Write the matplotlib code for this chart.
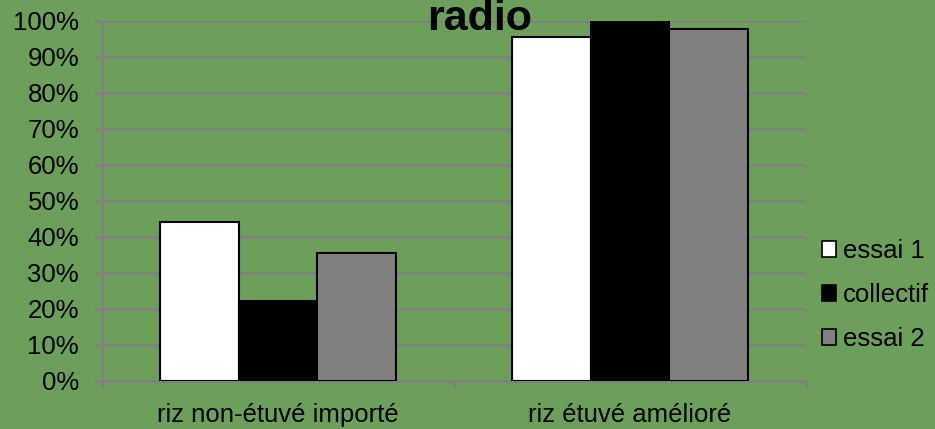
import matplotlib
matplotlib.use("Agg")
import matplotlib.pyplot as plt
from matplotlib.patches import Rectangle
import numpy as np

categories = ["riz non-étuvé importé", "riz étuvé amélioré"]
series_names = ["essai 1", "collectif", "essai 2"]
essai1 = [0.443, 0.955]
collectif = [0.222, 1.00]
essai2 = [0.355, 0.977]
series = [essai1, collectif, essai2]
colors = ["#ffffff", "#000000", "#808080"]
yticks = np.arange(0, 1.01, 0.1)
ytick_labels = [f"{int(round(v*100))}%" for v in yticks]

plt.rcParams['font.family'] = ['Liberation Sans', 'DejaVu Sans']
bg = "#6b9f5a"
W, H = 935, 429
FS = 18.5
fig = plt.figure(figsize=(W/100, H/100), dpi=100, facecolor=bg)
ax = fig.add_axes([102/W, 1-381/H, (806-102)/W, (381-21)/H])
ax.set_facecolor(bg)

x = np.arange(len(categories))
bw = 0.223
for i, (vals, c) in enumerate(zip(series, colors)):
    ax.bar(x + (i-1)*bw, vals, width=bw, color=c, edgecolor="#000000",
           linewidth=1.5, zorder=3, label=series_names[i])

ax.set_xlim(-0.5, len(categories)-0.5)
ax.set_ylim(0, 1.0)
ax.set_yticks(yticks)
ax.set_yticklabels(ytick_labels, fontsize=FS)
ax.yaxis.grid(True, color="#808080", linewidth=1.8, zorder=0)
ax.set_axisbelow(True)
for s in ["top", "right"]:
    ax.spines[s].set_visible(False)
for s in ["left", "bottom"]:
    ax.spines[s].set_color("#808080")
    ax.spines[s].set_linewidth(1.8)
ax.tick_params(axis="y", length=5, color="#808080", width=1.8, pad=11.5, labelcolor="black")
ax.set_xticks([-0.5, 0.5, 1.5])
ax.set_xticklabels([])
ax.tick_params(axis="x", length=6, color="#808080", width=1.8)
ax.set_xticks(x, minor=True)
ax.set_xticklabels(categories, minor=True, fontsize=FS)
ax.tick_params(axis="x", which="minor", length=0, pad=16)

fig.text(480/W, 1-30/H, "radio", ha="center", va="baseline", fontsize=31,
         fontweight="bold", color="black", zorder=5)

handles = [Rectangle((0, 0), 1, 1, facecolor=c, edgecolor="#000000", linewidth=1.2)
           for c in colors]
leg = fig.legend(handles, series_names, loc="center left",
                 bbox_to_anchor=(822/W, 1-295/H), frameon=False, fontsize=FS,
                 handlelength=0.55, handleheight=0.55, handletextpad=0.25,
                 labelspacing=0.78, borderaxespad=0, borderpad=0)

fig.savefig("out.png", dpi=100, facecolor=bg)
